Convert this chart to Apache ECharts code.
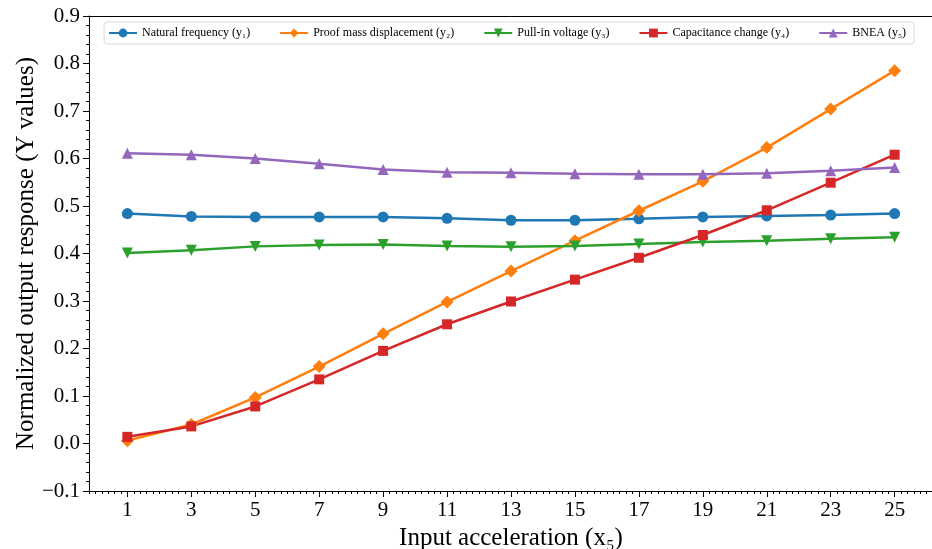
<!DOCTYPE html>
<html>
<head>
<meta charset="utf-8">
<script src="https://cdn.jsdelivr.net/npm/echarts@6/dist/echarts.min.js"></script>
<style>html,body{margin:0;padding:0;background:#fff}#c{width:932px;height:549px}</style>
</head>
<body>
<div id="c"></div>
<script>
const xValues = [1, 3, 5, 7, 9, 11, 13, 15, 17, 19, 21, 23, 25];
const naturalFrequency = [0.484, 0.478, 0.477, 0.477, 0.477, 0.474, 0.470, 0.470, 0.473, 0.477, 0.479, 0.481, 0.484];
const proofMass = [0.006, 0.040, 0.097, 0.162, 0.231, 0.298, 0.363, 0.427, 0.490, 0.552, 0.623, 0.704, 0.785];
const pullIn = [0.401, 0.407, 0.415, 0.418, 0.419, 0.416, 0.414, 0.416, 0.420, 0.424, 0.427, 0.431, 0.434];
const capacitance = [0.014, 0.036, 0.078, 0.135, 0.195, 0.251, 0.299, 0.345, 0.391, 0.439, 0.491, 0.549, 0.608];
const bnea = [0.611, 0.608, 0.600, 0.589, 0.577, 0.571, 0.570, 0.568, 0.567, 0.567, 0.569, 0.574, 0.581];
const seriesNames = ['Natural frequency (y\u2081)', 'Proof mass displacement (y\u2082)', 'Pull-in voltage (y\u2083)', 'Capacitance change (y\u2084)', 'BNEA (y\u2085)'];
const xTickLabels = [1, 3, 5, 7, 9, 11, 13, 15, 17, 19, 21, 23, 25];

const font = "'Liberation Serif','Times New Roman',serif";
const colors = ['#1f77b4', '#ff7f0e', '#2ca02c', '#d62728', '#9467bd'];
const symbols = ['circle', 'diamond', 'triangle', 'rect', 'triangle'];
const rotations = [0, 0, 180, 0, 0];
const sizes = [11, 13, 11, 10, 11];
const allData = [naturalFrequency, proofMass, pullIn, capacitance, bnea];

const chart = echarts.init(document.getElementById('c'));
chart.setOption({
  animation: false,
  grid: { left: 89, right: -1, top: 16, bottom: 58, outerBoundsMode: 'none', containLabel: false },
  legend: {
    top: 22, left: 104,
    itemWidth: 28, itemHeight: 11, itemGap: 29,
    padding: [5, 8, 5, 4],
    borderColor: '#d9d9d9', borderWidth: 1, borderRadius: 3,
    textStyle: { fontFamily: font, fontSize: 12, color: '#000' },
    data: seriesNames
  },
  xAxis: [{
    type: 'value', min: -0.2, max: 26.2,
    name: 'Input acceleration (x\u2085)', nameLocation: 'middle', nameGap: 26,
    nameTextStyle: { fontFamily: font, fontSize: 25, color: '#000' },
    axisLine: { onZero: false, lineStyle: { color: '#000', width: 1 } },
    axisTick: { show: true, customValues: xTickLabels, length: 6, lineStyle: { color: '#000' } },
    axisLabel: { customValues: xTickLabels, fontFamily: font, fontSize: 21, color: '#000', margin: 9 },
    splitLine: { show: false }
  }, {
    type: 'value', min: -0.2, max: 26.2, interval: 0.2, position: 'bottom',
    axisLine: { show: false, onZero: false },
    axisTick: { show: true, length: 3, lineStyle: { color: '#000' } },
    axisLabel: { show: false },
    splitLine: { show: false }
  }, {
    type: 'value', min: -0.2, max: 26.2, position: 'top',
    axisLine: { show: true, onZero: false, lineStyle: { color: '#000' } },
    axisTick: { show: false }, axisLabel: { show: false }, splitLine: { show: false }
  }],
  yAxis: {
    type: 'value', min: -0.1, max: 0.9, interval: 0.1,
    name: 'Normalized output response (Y values)', nameLocation: 'middle', nameGap: 50,
    nameMoveOverlap: false,
    nameTextStyle: { fontFamily: font, fontSize: 25, color: '#000' },
    axisLine: { show: true, onZero: false, lineStyle: { color: '#000' } },
    axisTick: { show: true, length: 6, lineStyle: { color: '#000' } },
    minorTick: { show: true, splitNumber: 5, length: 3, lineStyle: { color: '#000' } },
    axisLabel: {
      fontFamily: font, fontSize: 21, color: '#000', margin: 9,
      formatter: v => (v < 0 ? '\u2212' + Math.abs(v).toFixed(1) : v.toFixed(1))
    },
    splitLine: { show: false }
  },
  series: allData.map((d, i) => ({
    name: seriesNames[i],
    type: 'line',
    xAxisIndex: 0,
    data: xValues.map((x, j) => [x, d[j]]),
    symbol: symbols[i], symbolRotate: rotations[i], symbolSize: sizes[i],
    showAllSymbol: true,
    lineStyle: { color: colors[i], width: 2.5 },
    itemStyle: { color: colors[i] },
    emphasis: { disabled: true }
  }))
});
</script>
</body>
</html>
